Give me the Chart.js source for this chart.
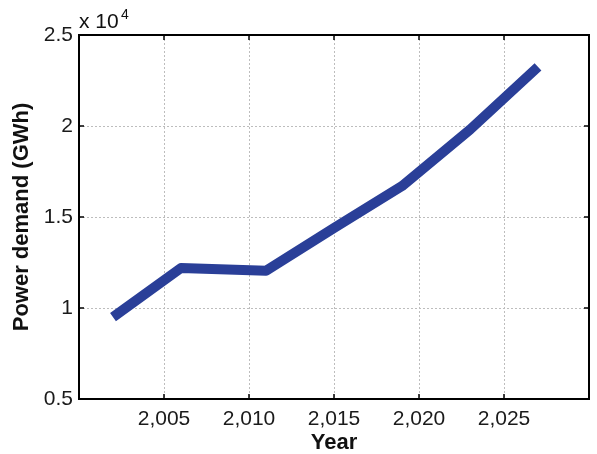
<!DOCTYPE html>
<html>
<head>
<meta charset="utf-8">
<script src="https://cdn.jsdelivr.net/npm/chart.js@4"></script>
<style>
  html, body { margin: 0; padding: 0; background: #fff; }
  #wrap { width: 597px; height: 454px; position: relative; }
</style>
</head>
<body>
<div id="wrap"><canvas id="grafica"></canvas></div>
<script>
// datos
const anios = [2002, 2006, 2011, 2015, 2019, 2023, 2027];
const demanda = [9500, 12200, 12050, 14400, 16700, 19800, 23250]; // GWh
const ticksX = [2005, 2010, 2015, 2020, 2025];
const ticksY = [5000, 10000, 15000, 20000, 25000];

const fuente = 'Liberation Sans, Arial, Helvetica, sans-serif';
const ctx = document.getElementById('grafica').getContext('2d');

// marco negro, marcas hacia dentro y "x 10^4"
const marco = {
  id: 'marco',
  afterDraw(chart) {
    const { ctx, chartArea: a, scales } = chart;
    ctx.save();
    ctx.strokeStyle = '#000';
    ctx.lineWidth = 2;
    ctx.strokeRect(a.left, a.top, a.right - a.left, a.bottom - a.top);
    ctx.lineWidth = 1.5;
    ctx.beginPath();
    ticksX.forEach(v => {
      const x = scales.x.getPixelForValue(v);
      ctx.moveTo(x, a.bottom); ctx.lineTo(x, a.bottom - 5);
      ctx.moveTo(x, a.top); ctx.lineTo(x, a.top + 5);
    });
    ticksY.forEach(v => {
      const y = scales.y.getPixelForValue(v);
      ctx.moveTo(a.left, y); ctx.lineTo(a.left + 5, y);
      ctx.moveTo(a.right, y); ctx.lineTo(a.right - 5, y);
    });
    ctx.stroke();
    ctx.fillStyle = '#111';
    ctx.textBaseline = 'alphabetic';
    ctx.textAlign = 'left';
    ctx.font = '21px ' + fuente;
    ctx.fillText('x 10', a.left, a.top - 7);
    ctx.font = '14px ' + fuente;
    ctx.fillText('4', a.left + 42, a.top - 16);
    ctx.restore();
  }
};

new Chart(ctx, {
  type: 'line',
  data: {
    datasets: [{
      data: anios.map((a, i) => ({ x: a, y: demanda[i] })),
      borderColor: '#2a3f98',
      borderWidth: 10,
      pointRadius: 0,
      tension: 0,
      borderCapStyle: 'butt',
      borderJoinStyle: 'round'
    }]
  },
  options: {
    responsive: true,
    maintainAspectRatio: false,
    animation: false,
    layout: { padding: { left: 0, top: 35, right: -2, bottom: 0 } },
    plugins: { legend: { display: false }, tooltip: { enabled: false } },
    scales: {
      x: {
        type: 'linear',
        min: 2000,
        max: 2030,
        afterBuildTicks: s => { s.ticks = [2000, ...ticksX, 2030].map(v => ({ value: v })); },
        afterFit: s => { s.height = 55; },
        grid: { color: '#bdbdbd', lineWidth: 1, drawTicks: false },
        border: { display: false, dash: [2, 2] },
        ticks: {
          padding: 8,
          color: '#1a1a1a',
          font: { family: fuente, size: 21 },
          maxRotation: 0,
          callback: v => (v === 2000 || v === 2030) ? '' : v.toLocaleString('en-US')
        },
        title: {
          display: true,
          text: 'Year',
          color: '#111',
          font: { family: fuente, size: 22, weight: 'bold' },
          padding: { top: -4, bottom: -2 }
        }
      },
      y: {
        min: 5000,
        max: 25000,
        afterBuildTicks: s => { s.ticks = ticksY.map(v => ({ value: v })); },
        afterFit: s => { s.width = 79; },
        grid: { color: '#bdbdbd', lineWidth: 1, drawTicks: false },
        border: { display: false, dash: [2, 2] },
        ticks: {
          padding: 6,
          color: '#1a1a1a',
          font: { family: fuente, size: 21 },
          callback: v => String(v / 10000)
        },
        title: {
          display: true,
          text: 'Power demand (GWh)',
          color: '#111',
          font: { family: fuente, size: 22, weight: 'bold' },
          padding: { top: 9, bottom: 0 }
        }
      }
    }
  },
  plugins: [marco]
});
</script>
</body>
</html>
